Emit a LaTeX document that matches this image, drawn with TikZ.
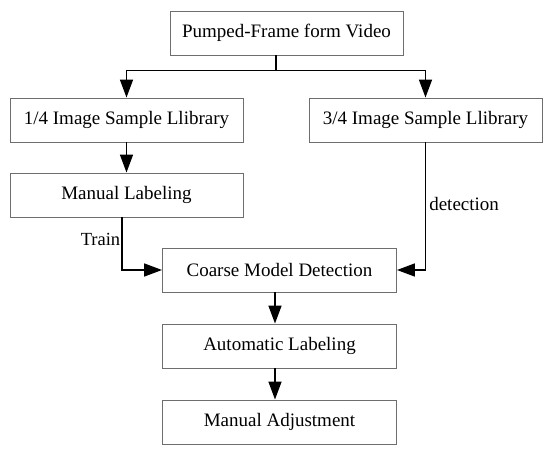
\documentclass[tikz,border=0pt]{standalone}
\usepackage{fontspec}
\setmainfont{Liberation Serif}
\usetikzlibrary{arrows.meta}
\usetikzlibrary{calc}

\begin{document}
\begin{tikzpicture}[x=1pt,y=1pt,yscale=-1,xscale=1,
  box/.style={draw={rgb, 255:red, 110; green, 110; blue, 110 },line width=0.9pt,minimum width=233pt,minimum height=44pt,inner sep=0pt,font=\fontsize{19}{22}\selectfont},
  arr/.style={line width=1.6pt,-{Triangle[length=18pt,width=13pt]}}]
\useasboundingbox (0,0) rectangle (550,451);

%Shape: Rectangle
\node [box] (video) at (286.5,33) {Pumped-Frame form Video};
%Shape: Rectangle
\node [box] (lib1) at (126.5,120) {1/4 Image Sample Llibrary};
%Shape: Rectangle
\node [box] (lib3) at (425.5,120) {3/4 Image Sample Llibrary};
%Shape: Rectangle
\node [box] (manual) at (126.5,195) {Manual Labeling};
%Shape: Rectangle
\node [box,minimum width=234pt] (coarse) at (279.5,270) {Coarse Model Detection};
%Shape: Rectangle
\node [box,minimum width=234pt] (auto) at (279.5,346) {Automatic Labeling};
%Shape: Rectangle
\node [box,minimum width=234pt] (adjust) at (279.5,422) {Manual Adjustment};

% split point under the video box
\coordinate (split) at ($(lib1.north)!0.5!(lib3.north)+(0,-27)$);

%Straight Lines
\draw [line width=1.6pt] (video.south -| split) -- (split) ;
\draw [arr] (split) -| (lib1.north) ;
\draw [arr] (split) -| (lib3.north) ;
\draw [arr] (lib1) -- (manual) ;
\draw [arr] ($(manual.south)+(-4.5,0)$) |- (coarse.west) node [pos=0.21,left,inner sep=1pt,font=\fontsize{18.5}{20}\selectfont] {Train} ;
\draw [arr] (lib3.south) |- (coarse.east) node [pos=0.24,right,inner sep=3pt,font=\fontsize{19}{20}\selectfont] {detection} ;
\draw [arr] ($(coarse.south)+(-4.5,0)$) -- ($(auto.north)+(-4.5,0)$) ;
\draw [arr] ($(auto.south)+(-4.5,0)$) -- ($(adjust.north)+(-4.5,0)$) ;

\end{tikzpicture}
\end{document}
